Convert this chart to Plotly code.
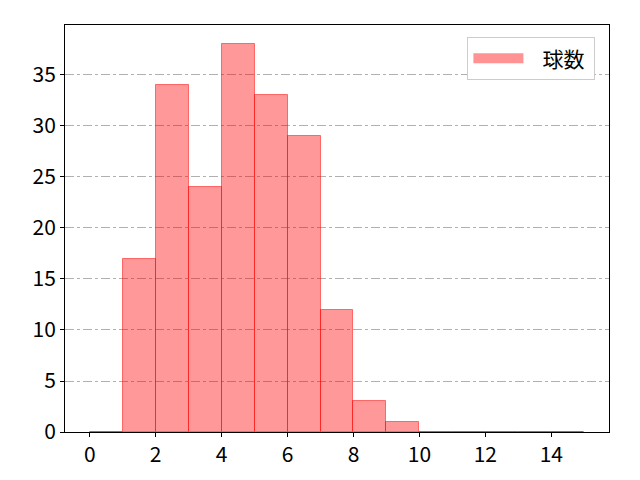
import plotly.graph_objects as go

# histogram bins (left edges) and counts
bin_left = list(range(0, 15))
counts = [0, 17, 34, 24, 38, 33, 29, 12, 3, 1, 0, 0, 0, 0, 0]
x_ticks = [0, 2, 4, 6, 8, 10, 12, 14]
y_ticks = [0, 5, 10, 15, 20, 25, 30, 35]

fig = go.Figure()
fig.add_trace(go.Bar(
    x=[b + 0.5 for b in bin_left], y=counts, width=1,
    name="球数", showlegend=False,
    marker=dict(color="rgba(255,0,0,0.4)",
                line=dict(color="rgba(255,0,0,0.5)", width=1)),
))
# legend entry drawn as a wide patch (matplotlib style)
fig.add_trace(go.Scatter(
    x=[None], y=[None], mode="lines", name="\u00a0\u00a0\u00a0球数\u00a0",
    line=dict(color="rgba(255,110,110,0.75)", width=18),
))

# page body has an 8px margin, so the figure is offset
fig.update_layout(
    width=640, height=480,
    margin=dict(l=57, r=39, t=17, b=56),
    paper_bgcolor="white", plot_bgcolor="white",
    font=dict(family="Noto Sans CJK JP", size=21, color="black"),
    bargap=0,
    showlegend=True,
    legend=dict(x=0.975, y=0.97, xanchor="right", yanchor="top",
                bgcolor="white", bordercolor="#cccccc", borderwidth=1,
                itemwidth=50, font=dict(size=21)),
)
fig.update_xaxes(range=[-0.75, 15.75], tickvals=x_ticks, showgrid=False,
                 showline=True, linecolor="black", mirror=True, linewidth=1,
                 ticks="outside", ticklen=4, tickcolor="black", zeroline=False)
fig.update_yaxes(range=[0, 39.9], tickvals=y_ticks, showgrid=True,
                 gridcolor="#b0b0b0", griddash="dashdot", gridwidth=1,
                 showline=True, linecolor="black", mirror=True, linewidth=1,
                 ticks="outside", ticklen=4, tickcolor="black", zeroline=False)

fig.write_html("out.html")
